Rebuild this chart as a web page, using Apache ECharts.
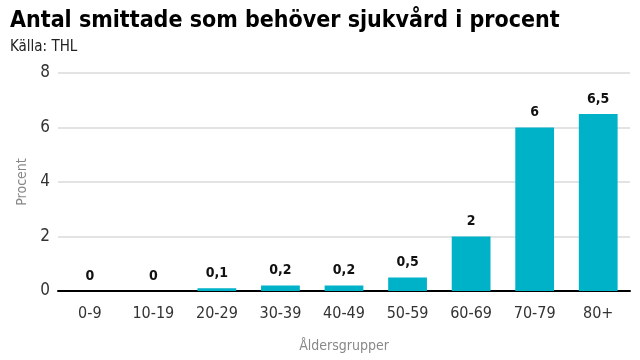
<!DOCTYPE html>
<html><head><meta charset="utf-8">
<script src="https://cdn.jsdelivr.net/npm/echarts@6/dist/echarts.min.js"></script>
<style>html,body{margin:0;padding:0;background:#fff}#c{width:640px;height:360px}</style>
</head><body><div id="c"></div>
<script>
const categories = ['0-9','10-19','20-29','30-39','40-49','50-59','60-69','70-79','80+'];
const values = [0, 0, 0.1, 0.2, 0.2, 0.5, 2, 6, 6.5];
const yTicks = [0, 2, 4, 6, 8];
const FONT = '"DejaVu Sans Condensed","Liberation Sans Narrow","Roboto",sans-serif';
const chart = echarts.init(document.getElementById('c'), null, {renderer:'canvas'});
chart.setOption({
  animation:false,
  textStyle:{fontFamily:FONT},
  title:[
    {text:'Antal smittade som behöver sjukvård i procent', left:10, top:10, padding:0,
     textStyle:{fontFamily:FONT, fontSize:23, fontWeight:'bold', color:'#000'}},
    {text:'Källa: THL', left:10, top:40, padding:0,
     textStyle:{fontFamily:FONT, fontSize:15, fontWeight:'normal', color:'#222'}}
  ],
  grid:{left:58, right:10, top:73, bottom:69, containLabel:false},
  xAxis:{type:'category', data:categories,
    name:'Åldersgrupper', nameLocation:'middle', nameGap:48,
    nameTextStyle:{fontFamily:FONT, fontSize:14, color:'#888'},
    axisLine:{lineStyle:{color:'#000', width:2}},
    axisTick:{show:false},
    axisLabel:{fontFamily:FONT, fontSize:16, color:'#333', margin:15}},
  yAxis:{type:'value', min:yTicks[0], max:yTicks[yTicks.length-1], interval:2,
    name:'Procent', nameLocation:'middle', nameGap:24,
    nameTextStyle:{fontFamily:FONT, fontSize:14, color:'#888'},
    axisLine:{show:false}, axisTick:{show:false},
    axisLabel:{fontFamily:FONT, fontSize:17, color:'#333', margin:8},
    splitLine:{lineStyle:{color:'#e3e3e3', width:2}}},
  series:[{type:'bar', data:values, barCategoryGap:'39%',
    itemStyle:{color:'#00b2c8'},
    label:{show:true, position:'top', distance:8, fontFamily:FONT, fontSize:14, fontWeight:'bold', color:'#111',
      formatter:p=>String(p.value).replace('.',',')}}]
});
</script></body></html>
